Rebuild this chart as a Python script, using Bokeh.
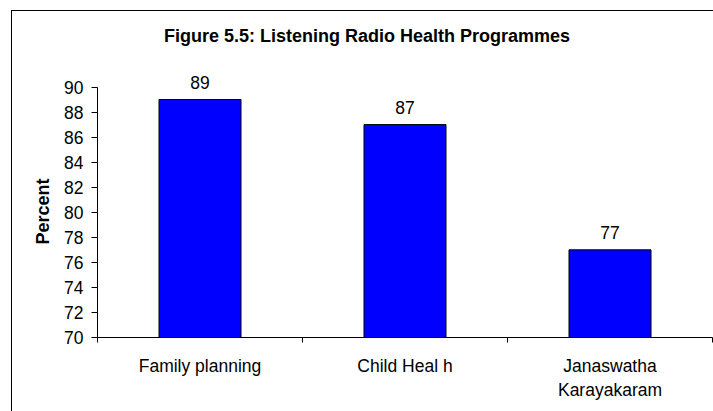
from bokeh.plotting import figure
from bokeh.models import Range1d, FixedTicker, ColumnDataSource, Title, Label
from bokeh.core.properties import value
from bokeh.embed import file_html
from bokeh.resources import INLINE

# ---- data ----
categories = ["Family planning", "Child Heal h", "Janaswatha\nKarayakaram"]
percent = [89, 87, 77]
y_ticks = [70, 72, 74, 76, 78, 80, 82, 84, 86, 88, 90]
title_text = "Figure 5.5: Listening Radio Health Programmes"
y_label = "Percent"

FONT = "Liberation Sans"

xs = [i + 0.5 for i in range(len(categories))]
src = ColumnDataSource(dict(x=xs, top=percent, label=[str(v) for v in percent]))

p = figure(width=702, height=401,
           x_range=Range1d(0, len(categories)), y_range=Range1d(70, 96.03),
           output_backend="svg", toolbar_location=None,
           min_border_left=85, min_border_right=2,
           min_border_top=0, min_border_bottom=75)
p.styles = {"margin-left": "11px", "margin-top": "10px",
            "border-left": "1.5px solid black", "border-top": "1.5px solid black"}
p.outline_line_color = None
p.xgrid.visible = False
p.ygrid.visible = False
p.background_fill_color = "white"
p.border_fill_color = "white"

p.vbar(x="x", top="top", bottom=70, width=0.40, source=src,
       fill_color="#0000FF", line_color="black", line_width=1)

p.text(x="x", y="top", text="label", source=src,
       text_align="center", text_baseline="middle", y_offset=-17,
       text_font=value(FONT), text_font_size="17.5px", text_color="black")

# y axis
ya = p.yaxis[0]
ya.ticker = FixedTicker(ticks=y_ticks, minor_ticks=[])
ya.bounds = (70, 90)
ya.axis_line_color = "black"
ya.major_tick_line_color = "black"
ya.major_tick_out = 6
ya.major_tick_in = 0
ya.major_label_standoff = 8
ya.major_label_text_font = FONT
ya.major_label_text_font_size = "17.5px"
ya.major_label_text_color = "black"

# x axis
xa = p.xaxis[0]
xa.ticker = FixedTicker(ticks=xs, minor_ticks=list(range(len(categories) + 1)))
xa.major_label_overrides = {x: c for x, c in zip(xs, categories)}
xa.major_tick_line_color = None
xa.major_tick_out = 0
xa.major_tick_in = 0
xa.minor_tick_line_color = "black"
xa.minor_tick_out = 5
xa.minor_tick_in = 0
xa.axis_line_color = "black"
xa.major_label_standoff = 13
xa.major_label_text_font = FONT
xa.major_label_text_font_size = "17.5px"
xa.major_label_text_color = "black"

# chart title (inside the extended frame, above the bars)
p.add_layout(Label(x=1.315, y=94.1, text=title_text, text_align="center",
                   text_baseline="middle", text_font=FONT, text_font_size="18px",
                   text_font_style="bold", text_color="black"))

# y axis title
p.add_layout(Title(text=y_label, align="left", offset=93, standoff=18,
                   text_font=FONT, text_font_size="18px",
                   text_font_style="bold", text_color="black"), "left")

open("out.html", "w").write(file_html(p, INLINE))
